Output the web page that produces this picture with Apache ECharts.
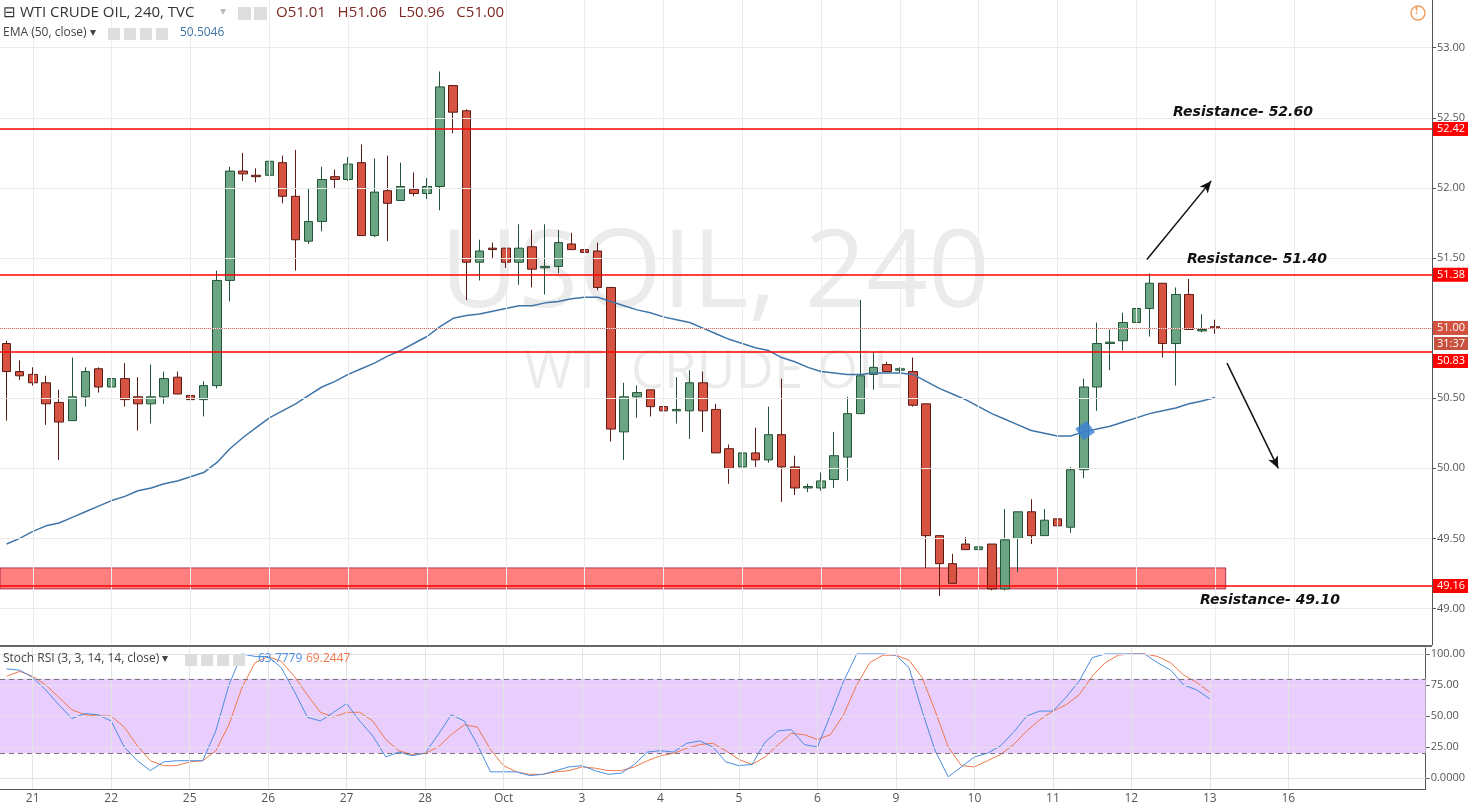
<!DOCTYPE html>
<html><head><meta charset="utf-8">
<script src="https://cdn.jsdelivr.net/npm/echarts@6/dist/echarts.min.js"></script>
<style>html,body{margin:0;padding:0;background:#fff}#c{width:1468px;height:805px}</style>
</head><body><div id="c"></div>
<script>
const opens  = [50.89,50.69,50.67,50.61,50.47,50.34,50.51,50.71,50.58,50.64,50.51,50.46,50.51,50.65,50.52,50.49,50.59,51.34,52.12,52.09,52.09,52.18,51.94,51.62,51.76,52.08,52.06,52.18,51.66,51.98,51.91,51.99,51.96,52.01,52.73,52.55,51.47,51.57,51.57,51.47,51.58,51.43,51.44,51.60,51.56,51.55,51.29,50.26,50.51,50.56,50.44,50.41,50.41,50.61,50.42,50.14,50.01,50.11,50.06,50.24,50.01,49.86,49.86,49.92,50.08,50.39,50.67,50.74,50.70,50.69,50.46,49.52,49.32,49.46,49.42,49.46,49.14,49.50,49.69,49.52,49.64,49.58,49.99,50.58,50.89,50.91,51.04,51.14,51.32,50.89,51.24,50.98,51.01];
const closes = [50.69,50.66,50.61,50.46,50.33,50.51,50.69,50.58,50.64,50.49,50.46,50.51,50.64,50.53,50.49,50.59,51.34,52.12,52.10,52.08,52.19,51.94,51.63,51.76,52.06,52.06,52.17,51.66,51.97,51.89,52.01,51.96,52.01,52.72,52.54,51.47,51.55,51.56,51.47,51.57,51.42,51.44,51.61,51.56,51.54,51.29,50.28,50.51,50.54,50.44,50.41,50.42,50.61,50.41,50.11,50.00,50.11,50.06,50.24,50.01,49.86,49.87,49.91,50.09,50.39,50.66,50.72,50.69,50.71,50.45,49.52,49.32,49.18,49.42,49.44,49.14,49.49,49.69,49.52,49.63,49.59,49.99,50.58,50.89,50.90,51.04,51.14,51.32,50.89,51.24,50.99,50.99,51.00];
const lows   = [50.34,50.63,50.59,50.31,50.06,50.34,50.44,50.54,50.54,50.44,50.27,50.32,50.46,50.53,50.46,50.37,50.57,51.19,52.05,52.04,52.09,51.89,51.41,51.60,51.69,52.00,52.05,51.66,51.65,51.62,51.91,51.94,51.92,51.84,52.39,51.20,51.34,51.50,51.43,51.31,51.29,51.24,51.39,51.56,51.44,51.27,50.19,50.06,50.36,50.37,50.39,50.32,50.21,50.26,50.11,49.89,49.97,50.01,50.04,49.76,49.81,49.83,49.84,49.86,49.91,50.39,50.56,50.69,50.68,50.44,49.29,49.09,49.18,49.42,49.36,49.13,49.13,49.26,49.46,49.52,49.59,49.54,49.93,50.41,50.70,50.84,50.96,50.94,50.79,50.59,50.99,50.97,50.96];
const highs  = [50.91,50.77,50.72,50.66,50.56,50.79,50.72,50.72,50.66,50.75,50.65,50.74,50.69,50.69,50.56,50.62,51.41,52.15,52.25,52.14,52.41,52.23,52.27,52.00,52.15,52.13,52.22,52.31,52.21,52.23,52.18,52.11,52.07,52.83,52.73,52.56,51.63,51.61,51.57,51.74,51.70,51.74,51.70,51.68,51.60,51.61,51.29,50.61,50.59,50.56,50.44,50.65,50.70,50.69,50.46,50.17,50.11,50.29,50.44,50.64,50.09,49.89,49.97,50.26,50.51,51.20,50.83,50.76,50.72,50.79,50.46,49.52,49.39,49.51,49.47,49.46,49.71,49.69,49.78,49.71,49.65,50.01,50.64,51.04,50.99,51.11,51.16,51.39,51.32,51.29,51.35,51.10,51.06];
const ema50  = [49.46,49.50,49.55,49.59,49.61,49.65,49.69,49.73,49.77,49.80,49.84,49.86,49.89,49.91,49.94,49.97,50.04,50.14,50.22,50.29,50.36,50.41,50.46,50.52,50.58,50.62,50.67,50.71,50.75,50.80,50.84,50.89,50.94,51.01,51.07,51.09,51.10,51.12,51.14,51.16,51.16,51.18,51.19,51.21,51.22,51.22,51.19,51.16,51.13,51.11,51.08,51.06,51.04,51.00,50.96,50.92,50.89,50.86,50.84,50.79,50.76,50.72,50.69,50.68,50.67,50.67,50.68,50.68,50.68,50.67,50.62,50.57,50.53,50.49,50.44,50.39,50.35,50.31,50.27,50.25,50.23,50.23,50.26,50.28,50.30,50.33,50.36,50.39,50.41,50.43,50.46,50.48,50.5046];
const stochK = [88,87,81,71,59,48,52,51,46,25,14,6,13,14,14,14,38,75,100,98,98,89,70,49,46,53,60,46,34,17,21,18,20,35,51,46,27,5,5,5,2,3,6,9,10,6,3,4,11,21,22,21,28,30,25,13,10,11,29,38,39,27,25,51,78,100,100,100,99,89,54,22,1,9,17,20,26,37,50,54,54,65,78,97,100,100,100,100,93,87,75,71,63.78];
const stochD = [82,86,82,75,65,55,51,50,50,41,26,14,10,10,13,14,22,43,73,93,98,94,82,67,53,49,53,53,46,31,22,19,20,25,35,43,41,23,10,5,3,3,5,6,9,8,6,6,9,14,18,20,24,27,28,22,15,11,17,27,36,35,31,35,51,75,93,99,99,95,81,54,25,10,9,14,19,27,38,47,54,59,67,82,93,99,100,100,98,93,83,77,69.24];
const dayIdx  = [2,8,14,20,26,32,38,44,50,56,62,68,74,80,86,92,98];
const dayText = ['21','22','25','26','27','28','Oct','3','4','5','6','9','10','11','12','13','16'];
const priceTicks = [49,49.5,50,50.5,51,51.5,52,52.5,53];
const stochTicks = [0,25,50,75,100];
const levels = [52.42,51.38,50.83,49.16];
const lastPrice = 51.00;
const zone = [49.14,49.29];
const zoneEnd = 92.8;
const arrowUp = [[86.8,51.49],[91.7,52.05]];
const arrowDown = [[92.9,50.75],[96.8,50.00]];
const crossPt = [82.1,50.27];
const NSLOT = 109;

const cats = Array.from({length:NSLOT},(_,i)=>String(i));
const labelMap = {}; dayIdx.forEach((d,i)=>labelMap[d]=dayText[i]);
const candles = opens.map((o,i)=>[o,closes[i],lows[i],highs[i]]);
const gridLine = {color:'#ececec',width:1,type:'solid'};

const chart = echarts.init(document.getElementById('c'));
chart.setOption({
  animation:false,
  grid:[{left:0,top:0,width:1432,height:645},{left:0,top:648,width:1432,height:142}],
  xAxis:[
    {type:'category',gridIndex:0,data:cats,boundaryGap:true,axisLine:{show:false},axisTick:{show:false},axisLabel:{show:false},splitLine:{show:false}},
    {type:'category',gridIndex:1,data:cats,boundaryGap:true,axisLine:{show:true,onZero:false,lineStyle:{color:'#555'}},axisTick:{show:false},
      axisLabel:{interval:0,color:'#555',fontSize:12,fontFamily:'Open Sans',margin:4,formatter:v=>labelMap[v]||''},splitLine:{show:false}},
    {type:'value',gridIndex:0,min:-0.5,max:NSLOT-0.5,show:false}
  ],
  yAxis:[
    {type:'value',gridIndex:0,position:'right',min:48.74,max:53.34,scale:true,axisLine:{show:true,onZero:false,lineStyle:{color:'#555'}},axisTick:{show:true,customValues:priceTicks,length:4,lineStyle:{color:'#555'}},
      axisLabel:{customValues:priceTicks,color:'#555',fontSize:11,fontFamily:'Open Sans',margin:5,formatter:v=>v.toFixed(2)},splitLine:{show:false}},
    {type:'value',gridIndex:1,position:'right',min:-8.8,max:104.8,axisLine:{show:true,onZero:false,lineStyle:{color:'#555'}},axisTick:{show:true,customValues:stochTicks,length:4,lineStyle:{color:'#555'}},
      axisLabel:{customValues:stochTicks,color:'#555',fontSize:11,fontFamily:'Open Sans',margin:5,formatter:v=>v===0?'0.0000':v.toFixed(2)},splitLine:{show:false}}
  ],
  series:[
    {type:'line',name:'grid',xAxisIndex:2,yAxisIndex:0,data:[],z:0,silent:true,
      markLine:{silent:true,symbol:['none','none'],label:{show:false},lineStyle:gridLine,
        data:[...priceTicks.map(v=>({yAxis:v})),...dayIdx.map(d=>({xAxis:d}))]}},
    {type:'candlestick',name:'WTI',xAxisIndex:0,yAxisIndex:0,data:candles,barWidth:9,z:2,
      itemStyle:{color:'#6ba583',color0:'#d75442',borderColor:'#225437',borderColor0:'#5b1a13',borderWidth:1}},
    {type:'line',name:'EMA',xAxisIndex:0,yAxisIndex:0,data:ema50,symbol:'none',smooth:false,z:3,lineStyle:{color:'#3f75a8',width:1.5}},
    {type:'line',name:'levels',xAxisIndex:2,yAxisIndex:0,data:[],z:4,silent:true,
      markLine:{silent:true,symbol:['none','none'],
        data:[...levels.map(v=>({yAxis:v,lineStyle:{color:'#ff0000',width:1.6,type:'solid'},
              label:{show:true,position:'end',distance:1,offset:v===50.83?[0,9]:[0,0],formatter:v.toFixed(2),color:'#fff',backgroundColor:'#ff0000',padding:[2,4,1,4],fontSize:11,fontFamily:'Open Sans'}})),
          {yAxis:lastPrice,lineStyle:{color:'#e06666',width:1,type:'dotted'},
              label:{show:true,position:'end',distance:1,formatter:lastPrice.toFixed(2),color:'#fff',backgroundColor:'#d2513f',padding:[2,4,1,4],fontSize:11,fontFamily:'Open Sans'}},
          [{coord:arrowUp[0],lineStyle:{color:'#111',width:1.5,type:'solid'},symbol:'none'},{coord:arrowUp[1],symbol:'arrow',symbolSize:[8,12]}],
          [{coord:arrowDown[0],lineStyle:{color:'#111',width:1.5,type:'solid'},symbol:'none'},{coord:arrowDown[1],symbol:'arrow',symbolSize:[8,12]}]
        ],label:{show:false}},
      markArea:{silent:true,itemStyle:{color:'rgba(255,0,0,0.5)',borderColor:'rgba(140,0,40,0.7)',borderWidth:1},
        data:[[{coord:[-0.5,zone[0]]},{coord:[zoneEnd,zone[1]]}]]}},
    {type:'scatter',name:'cross',xAxisIndex:2,yAxisIndex:0,data:[crossPt],symbol:'rect',symbolSize:14,symbolRotate:35,z:5,itemStyle:{color:'#3a7fd5'}},
    {type:'line',name:'band',xAxisIndex:1,yAxisIndex:1,data:[],z:0,silent:true,
      markArea:{silent:true,itemStyle:{color:'#e8cdfd'},data:[[{yAxis:20},{yAxis:80}]]},
      markLine:{silent:true,symbol:['none','none'],label:{show:false},
        data:[...stochTicks.map(v=>({yAxis:v,lineStyle:{color:'#e6e0ea',width:1,type:'solid'}})),
              ...dayIdx.map(d=>({xAxis:d,lineStyle:{color:'#e4e4e4',width:1,type:'solid'}})),
              {yAxis:20,lineStyle:{color:'#777',width:1,type:[5,4]}},{yAxis:80,lineStyle:{color:'#777',width:1,type:[5,4]}}]}},
    {type:'line',name:'D',xAxisIndex:1,yAxisIndex:1,data:stochD,symbol:'none',z:3,lineStyle:{color:'#f0784a',width:1}},
    {type:'line',name:'K',xAxisIndex:1,yAxisIndex:1,data:stochK,symbol:'none',z:4,lineStyle:{color:'#4a8ee0',width:1}}
  ],
  graphic:[
    {type:'rect',shape:{x:0,y:645,width:1432,height:2},style:{fill:'#666'},z:10},
    {type:'text',left:440,top:222,style:{text:'USOIL, 240',font:'108px "Open Sans"',fill:'rgba(0,0,0,0.08)'},z:0,silent:true},
    {type:'text',left:524,top:346,style:{text:'WTI CRUDE OIL',font:'53px "Open Sans"',fill:'rgba(0,0,0,0.08)'},z:0,silent:true},
    {type:'text',left:3,top:5,style:{text:'⊟ WTI CRUDE OIL, 240, TVC',font:'15px "Open Sans"',fill:'#333'},z:10},
    {type:'text',left:220,top:6,style:{text:'▾',font:'12px "Open Sans"',fill:'#bbb'},z:10},
    {type:'rect',shape:{x:238,y:7,width:13,height:13},style:{fill:'#ddd'},z:10},
    {type:'rect',shape:{x:254,y:7,width:13,height:13},style:{fill:'#ddd'},z:10},
    {type:'text',left:276,top:5,style:{text:'O51.01   H51.06   L50.96   C51.00',font:'15px "Open Sans"',fill:'#7a2a22'},z:10},
    {type:'text',left:3,top:27,style:{text:'EMA (50, close) ▾',font:'12px "Open Sans"',fill:'#444'},z:10},
    {type:'rect',shape:{x:108,y:28,width:12,height:12},style:{fill:'#ddd'},z:10},
    {type:'rect',shape:{x:124,y:28,width:12,height:12},style:{fill:'#ddd'},z:10},
    {type:'rect',shape:{x:140,y:28,width:12,height:12},style:{fill:'#ddd'},z:10},
    {type:'rect',shape:{x:156,y:28,width:12,height:12},style:{fill:'#ddd'},z:10},
    {type:'text',left:180,top:27,style:{text:'50.5046',font:'12px "Open Sans"',fill:'#3f75a8'},z:10},
    {type:'text',left:3,top:653,style:{text:'Stoch RSI (3, 3, 14, 14, close) ▾',font:'12px "Open Sans"',fill:'#444'},z:10},
    {type:'rect',shape:{x:185,y:654,width:12,height:12},style:{fill:'#ddd'},z:10},
    {type:'rect',shape:{x:201,y:654,width:12,height:12},style:{fill:'#ddd'},z:10},
    {type:'rect',shape:{x:217,y:654,width:12,height:12},style:{fill:'#ddd'},z:10},
    {type:'rect',shape:{x:233,y:654,width:12,height:12},style:{fill:'#ddd'},z:10},
    {type:'text',left:258,top:653,style:{text:'63.7779',font:'12px "Open Sans"',fill:'#4a8ee0'},z:10},
    {type:'text',left:306,top:653,style:{text:'69.2447',font:'12px "Open Sans"',fill:'#f0784a'},z:10},
    {type:'text',left:1173,top:105,style:{text:'Resistance- 52.60',font:'italic bold 14px "DejaVu Sans"',fill:'#111'},z:10},
    {type:'text',left:1187,top:252,style:{text:'Resistance- 51.40',font:'italic bold 14px "DejaVu Sans"',fill:'#111'},z:10},
    {type:'text',left:1200,top:593,style:{text:'Resistance- 49.10',font:'italic bold 14px "DejaVu Sans"',fill:'#111'},z:10},
    {type:'text',left:1434,top:337,style:{text:'31:37',font:'11px "Open Sans"',fill:'#fff',backgroundColor:'#c7503e',padding:[1,4,1,3]},z:10},
    {type:'circle',shape:{cx:1418,cy:13,r:7},style:{fill:'none',stroke:'#f0a060',lineWidth:1.5},z:10},
    {type:'text',left:1415,top:5,style:{text:'!',font:'bold 11px "Open Sans"',fill:'#f0a060'},z:10}
  ]
});
</script></body></html>
